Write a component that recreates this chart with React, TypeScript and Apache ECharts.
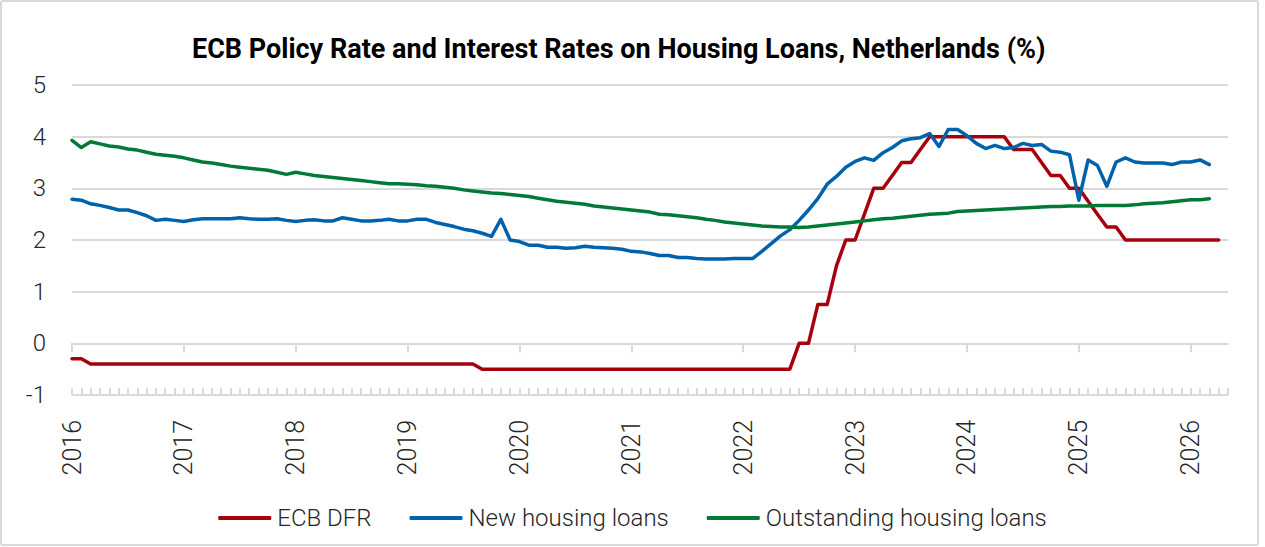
import React, { useEffect, useRef } from "react";
import * as echarts from "echarts";

const startYear = 2016;
const yearTicks = [0, 12, 24, 36, 48, 60, 72, 84, 96, 108, 120];
const monthTicks = Array.from({ length: 125 }, (_, i) => i);

const ecbDfr = [
  -0.3, -0.3, -0.4, -0.4, -0.4, -0.4, -0.4, -0.4, -0.4, -0.4,
  -0.4, -0.4, -0.4, -0.4, -0.4, -0.4, -0.4, -0.4, -0.4, -0.4,
  -0.4, -0.4, -0.4, -0.4, -0.4, -0.4, -0.4, -0.4, -0.4, -0.4,
  -0.4, -0.4, -0.4, -0.4, -0.4, -0.4, -0.4, -0.4, -0.4, -0.4,
  -0.4, -0.4, -0.4, -0.4, -0.5, -0.5, -0.5, -0.5, -0.5, -0.5,
  -0.5, -0.5, -0.5, -0.5, -0.5, -0.5, -0.5, -0.5, -0.5, -0.5,
  -0.5, -0.5, -0.5, -0.5, -0.5, -0.5, -0.5, -0.5, -0.5, -0.5,
  -0.5, -0.5, -0.5, -0.5, -0.5, -0.5, -0.5, -0.5, 0, 0,
  0.75, 0.75, 1.5, 2.0, 2.0, 2.5, 3.0, 3.0, 3.25, 3.5,
  3.5, 3.75, 4.0, 4.0, 4.0, 4.0, 4.0, 4.0, 4.0, 4.0,
  4.0, 3.75, 3.75, 3.75, 3.5, 3.25, 3.25, 3.0, 3.0, 2.75,
  2.5, 2.25, 2.25, 2.0, 2.0, 2.0, 2.0, 2.0, 2.0, 2.0,
  2.0, 2.0, 2.0, 2.0,
];

const newLoans = [
  2.79, 2.77, 2.70, 2.67, 2.63, 2.58, 2.58, 2.53, 2.47, 2.38,
  2.40, 2.38, 2.36, 2.39, 2.41, 2.41, 2.41, 2.41, 2.43, 2.41,
  2.40, 2.40, 2.41, 2.38, 2.36, 2.38, 2.39, 2.37, 2.37, 2.43,
  2.40, 2.37, 2.37, 2.38, 2.40, 2.37, 2.37, 2.40, 2.40, 2.34,
  2.30, 2.26, 2.21, 2.18, 2.13, 2.07, 2.40, 2.00, 1.97, 1.90,
  1.90, 1.86, 1.86, 1.84, 1.85, 1.88, 1.86, 1.85, 1.84, 1.82,
  1.78, 1.77, 1.74, 1.70, 1.70, 1.66, 1.66, 1.64, 1.63, 1.63,
  1.63, 1.64, 1.64, 1.64, 1.78, 1.93, 2.08, 2.20, 2.38, 2.58,
  2.80, 3.08, 3.23, 3.41, 3.52, 3.59, 3.54, 3.69, 3.79, 3.92,
  3.96, 3.98, 4.06, 3.81, 4.14, 4.14, 4.02, 3.87, 3.77, 3.83,
  3.77, 3.79, 3.87, 3.83, 3.85, 3.72, 3.70, 3.65, 2.77, 3.55,
  3.44, 3.04, 3.51, 3.59, 3.51, 3.49, 3.49, 3.49, 3.46, 3.51,
  3.51, 3.55, 3.46,
];

const outstandingLoans = [
  3.93, 3.79, 3.90, 3.86, 3.82, 3.80, 3.76, 3.74, 3.70, 3.66,
  3.64, 3.62, 3.59, 3.55, 3.51, 3.49, 3.46, 3.43, 3.41, 3.39,
  3.37, 3.35, 3.31, 3.27, 3.31, 3.28, 3.25, 3.23, 3.21, 3.19,
  3.17, 3.15, 3.13, 3.11, 3.09, 3.09, 3.08, 3.07, 3.05, 3.04,
  3.02, 3.00, 2.97, 2.95, 2.93, 2.91, 2.90, 2.88, 2.86, 2.84,
  2.81, 2.78, 2.75, 2.73, 2.71, 2.69, 2.66, 2.64, 2.62, 2.60,
  2.58, 2.56, 2.54, 2.50, 2.49, 2.47, 2.45, 2.43, 2.40, 2.38,
  2.35, 2.33, 2.31, 2.29, 2.27, 2.26, 2.25, 2.25, 2.24, 2.25,
  2.27, 2.29, 2.31, 2.33, 2.35, 2.37, 2.39, 2.41, 2.42, 2.44,
  2.46, 2.48, 2.50, 2.51, 2.52, 2.55, 2.56, 2.57, 2.58, 2.59,
  2.60, 2.61, 2.62, 2.63, 2.64, 2.65, 2.65, 2.66, 2.66, 2.66,
  2.67, 2.67, 2.67, 2.67, 2.68, 2.70, 2.71, 2.72, 2.74, 2.76,
  2.78, 2.78, 2.80,
];

const seriesNames = ["ECB DFR", "New housing loans", "Outstanding housing loans"];
const seriesColors = ["#A5000C", "#0062AB", "#007A36"];
const titleText = "ECB Policy Rate and Interest Rates on Housing Loans, Netherlands (%)";

const toPairs = (arr: number[]) => arr.map((v, i) => [i, v]);

export default function App() {
  const ref = useRef<HTMLDivElement>(null);
  useEffect(() => {
    if (!ref.current) return;
    const chart = echarts.init(ref.current, null, { renderer: "svg" });
    const font = "Roboto";
    const gridColor = "#d9d9d9";
    chart.setOption({
      animation: false,
      backgroundColor: "#ffffff",
      title: {
        text: titleText,
        left: 187,
        top: 29,
        textStyle: { fontFamily: font, fontWeight: "bold", fontSize: 27, color: "#000", lineHeight: 30 },
      },
      graphic: [
        {
          type: "rect",
          shape: { x: 1, y: 1, width: 1257, height: 544, r: 2 },
          style: { fill: "none", stroke: gridColor, lineWidth: 2 },
          silent: true,
          z: 0,
        },
      ],
      legend: {
        data: seriesNames,
        left: "center",
        top: 499,
        itemWidth: 53,
        itemHeight: 4,
        itemGap: 38,
        icon: "roundRect",
        textStyle: { fontFamily: font, fontWeight: 300, fontSize: 24, color: "#262626", lineHeight: 28, padding: [0, 0, 0, 1] },
      },
      grid: { left: 72, right: 37, top: 85, bottom: 152, containLabel: false },
      xAxis: [
        {
          type: "value",
          min: 0,
          max: 124,
          interval: 12,
          axisLine: { show: true, lineStyle: { color: gridColor, width: 2 } },
          axisTick: { show: true, inside: false, length: 9, customValues: yearTicks, lineStyle: { color: gridColor, width: 2 } },
          axisLabel: {
            customValues: yearTicks,
            rotate: 90,
            margin: 25,
            fontFamily: font,
            fontWeight: 300,
            fontSize: 25,
            color: "#262626",
            formatter: (v: number) => (v % 12 === 0 ? String(startYear + v / 12) : ""),
          },
          splitLine: { show: false },
        },
        {
          type: "value",
          min: 0,
          max: 124,
          position: "bottom",
          axisLine: { show: false },
          axisTick: { show: true, inside: true, length: 7, customValues: monthTicks, lineStyle: { color: gridColor, width: 2 } },
          axisLabel: { show: false },
          splitLine: { show: false },
        },
      ],
      yAxis: {
        type: "value",
        min: -1,
        max: 5,
        interval: 1,
        axisLine: { show: false },
        axisTick: { show: false },
        axisLabel: { margin: 26, fontFamily: font, fontWeight: 300, fontSize: 24, color: "#262626" },
        splitLine: { show: true, lineStyle: { color: gridColor, width: 2 } },
      },
      series: [
        { name: seriesNames[0], data: toPairs(ecbDfr) },
        { name: seriesNames[1], data: toPairs(newLoans) },
        { name: seriesNames[2], data: toPairs(outstandingLoans) },
      ].map((s, i) => ({
        ...s,
        type: "line",
        xAxisIndex: 0,
        showSymbol: false,
        symbol: "none",
        color: seriesColors[i],
        lineStyle: { color: seriesColors[i], width: 3.5, cap: "round", join: "round" },
        z: 3,
      })),
    });
    return () => chart.dispose();
  }, []);
  return (
    <div
      ref={ref}
      style={{ position: "absolute", left: 0, top: 0, width: 1265, height: 547, background: "#fff" }}
    />
  );
}
